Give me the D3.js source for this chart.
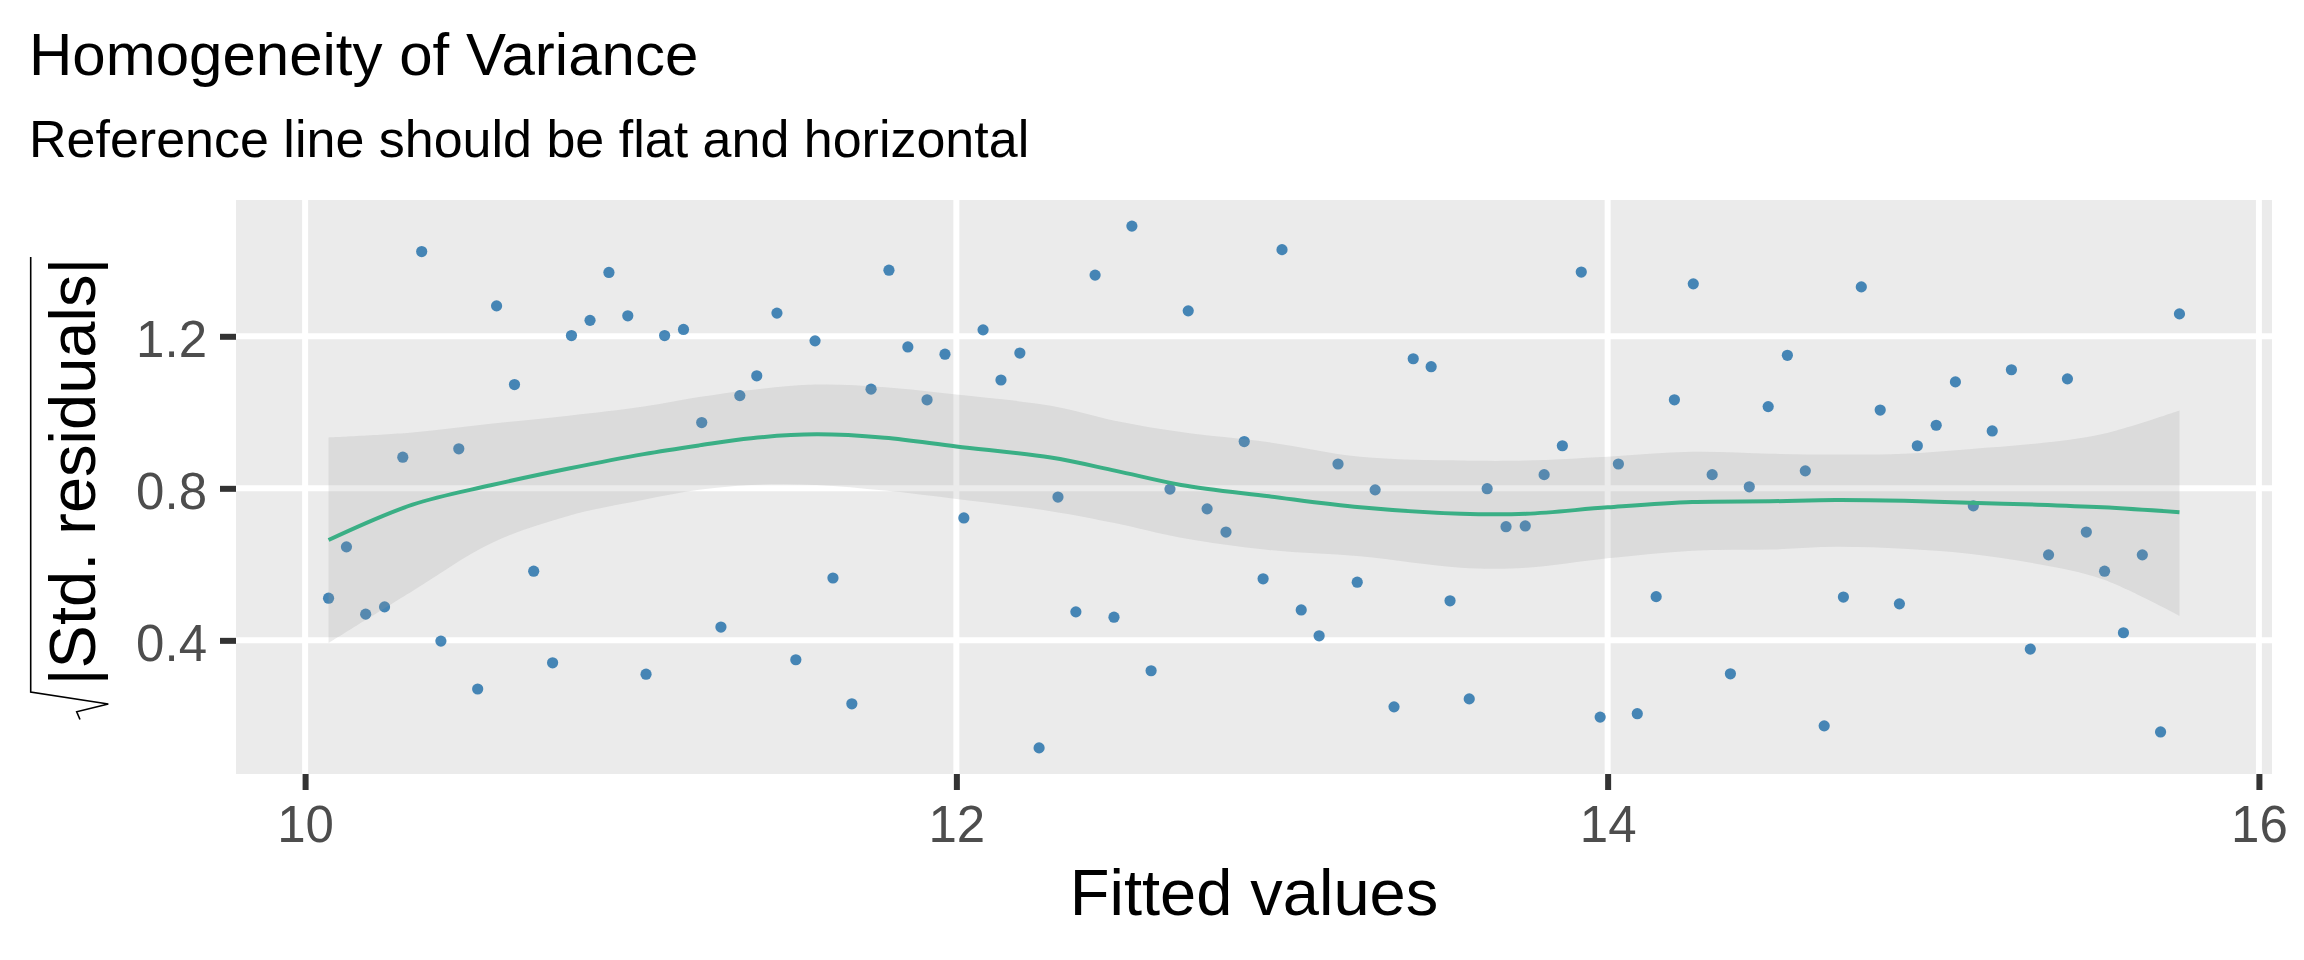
<!DOCTYPE html>
<html>
<head>
<meta charset="utf-8">
<script src="https://cdn.jsdelivr.net/npm/d3@7"></script>
<style>
  body { margin: 0; background: #ffffff; }
  svg { display: block; font-family: "Liberation Sans", Arial, sans-serif; }
</style>
</head>
<body>
<svg></svg>
<script>
// fitted values and sqrt(|std. residuals|)
var fitted = [
    10.072, 10.127, 10.186, 10.244, 10.300, 10.358, 10.417, 10.472, 10.530, 10.588,
    10.643, 10.702, 10.760, 10.818, 10.875, 10.933, 10.991, 11.047, 11.104, 11.162,
    11.218, 11.277, 11.335, 11.387, 11.449, 11.507, 11.566, 11.621, 11.679, 11.738,
    11.793, 11.851, 11.910, 11.965, 12.023, 12.082, 12.137, 12.195, 12.254, 12.312,
    12.367, 12.426, 12.484, 12.539, 12.598, 12.656, 12.712, 12.770, 12.828, 12.884,
    12.942, 13.000, 13.059, 13.114, 13.172, 13.231, 13.286, 13.344, 13.403, 13.458,
    13.516, 13.575, 13.630, 13.688, 13.747, 13.805, 13.861, 13.919, 13.977, 14.033,
    14.091, 14.149, 14.205, 14.263, 14.321, 14.377, 14.435, 14.493, 14.552, 14.607,
    14.665, 14.724, 14.779, 14.837, 14.896, 14.951, 15.009, 15.068, 15.123, 15.181,
    15.240, 15.298, 15.354, 15.412, 15.470, 15.526, 15.584, 15.642, 15.698, 15.756
]
var sqrtStdRes = [
    0.511, 0.646, 0.469, 0.488, 0.882, 1.423, 0.398, 0.904, 0.272, 1.280,
    1.073, 0.582, 0.341, 1.202, 1.242, 1.368, 1.254, 0.311, 1.202, 1.218,
    0.973, 0.435, 1.044, 1.096, 1.261, 0.349, 1.188, 0.564, 0.233, 1.061,
    1.374, 1.172, 1.033, 1.153, 0.722, 1.217, 1.085, 1.156, 0.117, 0.777,
    0.475, 1.361, 0.461, 1.490, 0.320, 0.798, 1.267, 0.746, 0.685, 0.923,
    0.562, 1.428, 0.480, 0.412, 0.864, 0.553, 0.796, 0.225, 1.141, 1.120,
    0.504, 0.246, 0.799, 0.699, 0.701, 0.836, 0.912, 1.369, 0.198, 0.864,
    0.207, 0.515, 1.033, 1.338, 0.836, 0.312, 0.804, 1.015, 1.150, 0.846,
    0.175, 0.514, 1.330, 1.006, 0.496, 0.912, 0.966, 1.080, 0.754, 0.951,
    1.112, 0.377, 0.625, 1.088, 0.685, 0.582, 0.420, 0.625, 0.159, 1.259
]

// loess smooth and its confidence band
var smoothX = [10.072, 10.33, 10.57, 10.81, 11.04, 11.21, 11.37, 11.57, 11.78, 12.0,
    12.29, 12.49, 12.69, 12.96, 13.24, 13.55, 13.75, 14.0, 14.26, 14.50,
    14.70, 14.91, 15.11, 15.32, 15.52, 15.756]
var smoothFit = [0.664, 0.757, 0.808, 0.852, 0.890, 0.913, 0.932, 0.942, 0.933, 0.910,
    0.881, 0.846, 0.809, 0.779, 0.750, 0.733, 0.733, 0.750, 0.764, 0.766,
    0.769, 0.767, 0.762, 0.757, 0.750, 0.737]
var smoothLower = [0.393, 0.530, 0.655, 0.728, 0.770, 0.796, 0.809, 0.809, 0.794, 0.772,
    0.740, 0.708, 0.670, 0.638, 0.621, 0.591, 0.591, 0.616, 0.636, 0.639,
    0.646, 0.641, 0.628, 0.601, 0.561, 0.465]
var smoothUpper = [0.934, 0.947, 0.970, 0.991, 1.015, 1.040, 1.059, 1.073, 1.066, 1.047,
    1.017, 0.977, 0.948, 0.921, 0.883, 0.873, 0.873, 0.883, 0.896, 0.891,
    0.889, 0.891, 0.903, 0.918, 0.943, 1.005]

var xTicks = [10, 12, 14, 16]
var yTicks = [0.4, 0.8, 1.2]

var svgWidth = 2304,
    svgHeight = 960
var panel = { left: 236, right: 2272, top: 200, bottom: 774 }

var svg = d3.select("svg")
    .attr("width", svgWidth)
    .attr("height", svgHeight)

// ggplot-style 5% expansion on each side
function expand(ext) {
    var r = ext[1] - ext[0]
    return [ext[0] - 0.05 * r, ext[1] + 0.05 * r]
}

var x = d3.scaleLinear()
    .domain(expand(d3.extent(fitted)))
    .range([panel.left, panel.right])

var y = d3.scaleLinear()
    .domain(expand(d3.extent(sqrtStdRes)))
    .range([panel.bottom, panel.top])

// panel background
svg.append("rect")
    .attr("x", panel.left)
    .attr("y", panel.top)
    .attr("width", panel.right - panel.left)
    .attr("height", panel.bottom - panel.top)
    .attr("fill", "#ebebeb")

// grid lines
svg.append("g").selectAll("line")
    .data(xTicks)
    .enter().append("line")
    .attr("x1", (d) => x(d)).attr("x2", (d) => x(d))
    .attr("y1", panel.top).attr("y2", panel.bottom)
    .attr("stroke", "#ffffff")
    .attr("stroke-width", 6)

svg.append("g").selectAll("line")
    .data(yTicks)
    .enter().append("line")
    .attr("x1", panel.left).attr("x2", panel.right)
    .attr("y1", (d) => y(d)).attr("y2", (d) => y(d))
    .attr("stroke", "#ffffff")
    .attr("stroke-width", 6)

// points
svg.append("g").selectAll("circle")
    .data(fitted)
    .enter().append("circle")
    .attr("cx", (d) => x(d))
    .attr("cy", (d, i) => y(sqrtStdRes[i]))
    .attr("r", 5.6)
    .attr("fill", "#1b6ca8")
    .attr("fill-opacity", 0.8)

// confidence band
var band = d3.area()
    .x((d, i) => x(smoothX[i]))
    .y0((d, i) => y(smoothLower[i]))
    .y1((d, i) => y(smoothUpper[i]))
    .curve(d3.curveCatmullRom)

svg.append("path")
    .attr("d", band(smoothX))
    .attr("fill", "#999999")
    .attr("fill-opacity", 0.2)

// smooth line
var line = d3.line()
    .x((d, i) => x(smoothX[i]))
    .y((d, i) => y(smoothFit[i]))
    .curve(d3.curveCatmullRom)

svg.append("path")
    .attr("d", line(smoothX))
    .attr("fill", "none")
    .attr("stroke", "#3aaf85")
    .attr("stroke-width", 4)

// axes
var xAxis = svg.append("g")
    .attr("transform", "translate(0," + panel.bottom + ")")
    .call(d3.axisBottom(x).tickValues(xTicks).tickSize(16).tickPadding(15.5).tickFormat(d3.format("d")))

var yAxis = svg.append("g")
    .attr("transform", "translate(" + panel.left + ",0)")
    .call(d3.axisLeft(y).tickValues(yTicks).tickSize(16).tickPadding(13).tickFormat(d3.format(".1f")))

svg.selectAll(".domain").remove()
svg.selectAll(".tick line")
    .attr("stroke", "#333333")
    .attr("stroke-width", 6)
svg.selectAll(".tick text")
    .attr("fill", "#4d4d4d")
    .attr("font-size", 51)
    .attr("font-family", "Liberation Sans, Arial, sans-serif")
yAxis.selectAll(".tick text").attr("dy", "0.4em")

// titles
svg.append("text")
    .attr("x", 29)
    .attr("y", 75)
    .attr("font-size", 60)
    .attr("fill", "#000000")
    .text("Homogeneity of Variance")

svg.append("text")
    .attr("x", 29)
    .attr("y", 157)
    .attr("font-size", 52)
    .attr("fill", "#000000")
    .text("Reference line should be flat and horizontal")

svg.append("text")
    .attr("x", (panel.left + panel.right) / 2)
    .attr("y", 915)
    .attr("text-anchor", "middle")
    .attr("font-size", 65)
    .attr("fill", "#000000")
    .text("Fitted values")

// y label: sqrt(|Std. residuals|)
svg.append("text")
    .attr("transform", "translate(95,471.5) rotate(-90)")
    .attr("text-anchor", "middle")
    .attr("font-size", 65)
    .attr("fill", "#000000")
    .text("|Std. residuals|")

var radical = d3.path()
radical.moveTo(30.7, 257)
radical.lineTo(30.7, 692)
radical.lineTo(108.3, 704)
radical.lineTo(76.7, 711.7)
radical.lineTo(80, 719.5)

svg.append("path")
    .attr("d", radical.toString())
    .attr("fill", "none")
    .attr("stroke", "#000000")
    .attr("stroke-width", 1.6)
</script>
</body>
</html>
